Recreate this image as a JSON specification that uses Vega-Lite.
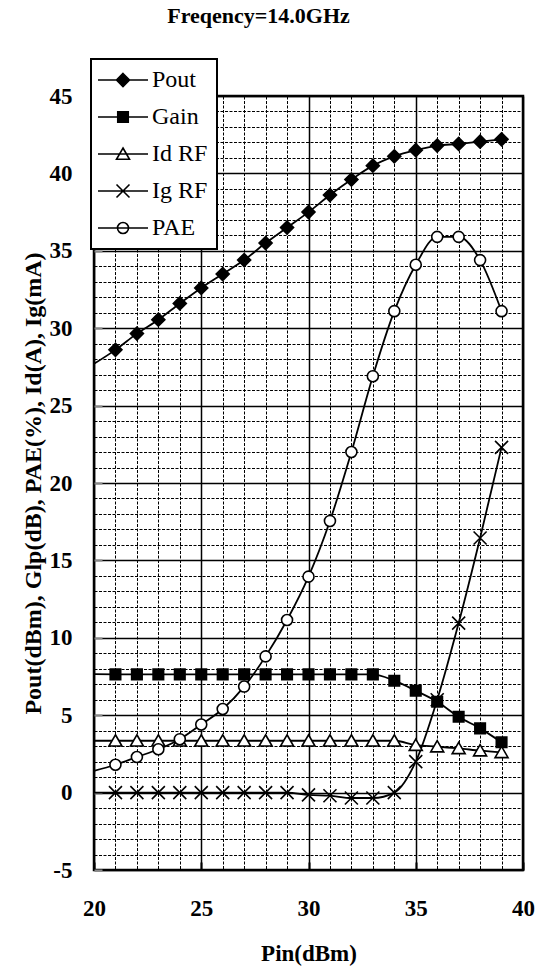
{
  "$schema": "https://vega.github.io/schema/vega-lite/v6.json",
  "width": 429,
  "height": 774,
  "autosize": {"type": "none"},
  "padding": {"left": 94, "top": 96, "right": 16, "bottom": 97},
  "background": "white",
  "title": {"text": "Freqency=14.0GHz", "font": "Liberation Serif", "fontSize": 22, "fontWeight": "bold", "color": "black", "anchor": "middle", "dx": -50, "offset": 30},
  "data": {"values": [
    {"x": 20, "series": "Pout", "v": 27.7}, {"x": 21, "series": "Pout", "v": 28.6}, {"x": 22, "series": "Pout", "v": 29.65}, {"x": 23, "series": "Pout", "v": 30.55}, {"x": 24, "series": "Pout", "v": 31.6}, {"x": 25, "series": "Pout", "v": 32.6}, {"x": 26, "series": "Pout", "v": 33.5}, {"x": 27, "series": "Pout", "v": 34.4}, {"x": 28, "series": "Pout", "v": 35.5}, {"x": 29, "series": "Pout", "v": 36.5}, {"x": 30, "series": "Pout", "v": 37.5}, {"x": 31, "series": "Pout", "v": 38.6}, {"x": 32, "series": "Pout", "v": 39.6}, {"x": 33, "series": "Pout", "v": 40.5}, {"x": 34, "series": "Pout", "v": 41.1}, {"x": 35, "series": "Pout", "v": 41.5}, {"x": 36, "series": "Pout", "v": 41.8}, {"x": 37, "series": "Pout", "v": 41.9}, {"x": 38, "series": "Pout", "v": 42.05}, {"x": 39, "series": "Pout", "v": 42.2},
    {"x": 20, "series": "Gain", "v": 7.65}, {"x": 21, "series": "Gain", "v": 7.64}, {"x": 22, "series": "Gain", "v": 7.64}, {"x": 23, "series": "Gain", "v": 7.64}, {"x": 24, "series": "Gain", "v": 7.64}, {"x": 25, "series": "Gain", "v": 7.64}, {"x": 26, "series": "Gain", "v": 7.64}, {"x": 27, "series": "Gain", "v": 7.64}, {"x": 28, "series": "Gain", "v": 7.64}, {"x": 29, "series": "Gain", "v": 7.64}, {"x": 30, "series": "Gain", "v": 7.64}, {"x": 31, "series": "Gain", "v": 7.64}, {"x": 32, "series": "Gain", "v": 7.64}, {"x": 33, "series": "Gain", "v": 7.64}, {"x": 34, "series": "Gain", "v": 7.23}, {"x": 35, "series": "Gain", "v": 6.58}, {"x": 36, "series": "Gain", "v": 5.87}, {"x": 37, "series": "Gain", "v": 4.9}, {"x": 38, "series": "Gain", "v": 4.15}, {"x": 39, "series": "Gain", "v": 3.25},
    {"x": 20, "series": "Id RF", "v": 3.35}, {"x": 21, "series": "Id RF", "v": 3.35}, {"x": 22, "series": "Id RF", "v": 3.35}, {"x": 23, "series": "Id RF", "v": 3.35}, {"x": 24, "series": "Id RF", "v": 3.35}, {"x": 25, "series": "Id RF", "v": 3.35}, {"x": 26, "series": "Id RF", "v": 3.35}, {"x": 27, "series": "Id RF", "v": 3.35}, {"x": 28, "series": "Id RF", "v": 3.35}, {"x": 29, "series": "Id RF", "v": 3.35}, {"x": 30, "series": "Id RF", "v": 3.35}, {"x": 31, "series": "Id RF", "v": 3.35}, {"x": 32, "series": "Id RF", "v": 3.35}, {"x": 33, "series": "Id RF", "v": 3.35}, {"x": 34, "series": "Id RF", "v": 3.35}, {"x": 35, "series": "Id RF", "v": 3.07}, {"x": 36, "series": "Id RF", "v": 2.97}, {"x": 37, "series": "Id RF", "v": 2.86}, {"x": 38, "series": "Id RF", "v": 2.71}, {"x": 39, "series": "Id RF", "v": 2.6},
    {"x": 20, "series": "Ig RF", "v": 0}, {"x": 21, "series": "Ig RF", "v": 0}, {"x": 22, "series": "Ig RF", "v": 0}, {"x": 23, "series": "Ig RF", "v": 0}, {"x": 24, "series": "Ig RF", "v": 0}, {"x": 25, "series": "Ig RF", "v": 0}, {"x": 26, "series": "Ig RF", "v": 0}, {"x": 27, "series": "Ig RF", "v": 0}, {"x": 28, "series": "Ig RF", "v": 0}, {"x": 29, "series": "Ig RF", "v": 0}, {"x": 30, "series": "Ig RF", "v": -0.15}, {"x": 31, "series": "Ig RF", "v": -0.2}, {"x": 32, "series": "Ig RF", "v": -0.35}, {"x": 33, "series": "Ig RF", "v": -0.35}, {"x": 34, "series": "Ig RF", "v": 0}, {"x": 35, "series": "Ig RF", "v": 2.0}, {"x": 36, "series": "Ig RF", "v": 6.0}, {"x": 37, "series": "Ig RF", "v": 10.95}, {"x": 38, "series": "Ig RF", "v": 16.45}, {"x": 39, "series": "Ig RF", "v": 22.3},
    {"x": 20, "series": "PAE", "v": 1.4}, {"x": 21, "series": "PAE", "v": 1.8}, {"x": 22, "series": "PAE", "v": 2.3}, {"x": 23, "series": "PAE", "v": 2.8}, {"x": 24, "series": "PAE", "v": 3.45}, {"x": 25, "series": "PAE", "v": 4.4}, {"x": 26, "series": "PAE", "v": 5.4}, {"x": 27, "series": "PAE", "v": 6.85}, {"x": 28, "series": "PAE", "v": 8.8}, {"x": 29, "series": "PAE", "v": 11.15}, {"x": 30, "series": "PAE", "v": 13.95}, {"x": 31, "series": "PAE", "v": 17.55}, {"x": 32, "series": "PAE", "v": 22.0}, {"x": 33, "series": "PAE", "v": 26.9}, {"x": 34, "series": "PAE", "v": 31.1}, {"x": 35, "series": "PAE", "v": 34.1}, {"x": 36, "series": "PAE", "v": 35.9}, {"x": 37, "series": "PAE", "v": 35.9}, {"x": 38, "series": "PAE", "v": 34.4}, {"x": 39, "series": "PAE", "v": 31.1}
  ]},
  "encoding": {
    "x": {
      "field": "x", "type": "quantitative",
      "scale": {"domain": [20, 40], "nice": false, "zero": false},
      "axis": {
        "title": "Pin(dBm)",
        "values": [20, 21, 22, 23, 24, 25, 26, 27, 28, 29, 30, 31, 32, 33, 34, 35, 36, 37, 38, 39, 40],
        "labelExpr": "datum.value % 5 === 0 ? '' + datum.value : ''",
        "grid": true,
        "gridColor": "black",
        "gridDash": {"condition": {"test": "datum.value % 5 === 0", "value": []}, "value": [3, 1.5]},
        "gridWidth": {"condition": {"test": "datum.value % 5 === 0", "value": 1.5}, "value": 1},
        "domain": false,
        "tickSize": -8,
        "tickColor": "black",
        "tickWidth": 2,
        "tickOpacity": {"condition": {"test": "datum.value % 5 === 0", "value": 1}, "value": 0},
        "labelFont": "Liberation Serif", "labelFontSize": 23, "labelFontWeight": "bold", "labelColor": "black",
        "labelPadding": 35, "labelFlush": false, "labelOverlap": false,
        "titleFont": "Liberation Serif", "titleFontSize": 23, "titleFontWeight": "bold", "titleColor": "black",
        "titlePadding": 22
      }
    },
    "y": {
      "field": "v", "type": "quantitative",
      "scale": {"domain": [-5, 45], "nice": false, "zero": false},
      "axis": {
        "title": "Pout(dBm), Glp(dB), PAE(%), Id(A), Ig(mA)",
        "values": [-5, -4, -3, -2, -1, 0, 1, 2, 3, 4, 5, 6, 7, 8, 9, 10, 11, 12, 13, 14, 15, 16, 17, 18, 19, 20, 21, 22, 23, 24, 25, 26, 27, 28, 29, 30, 31, 32, 33, 34, 35, 36, 37, 38, 39, 40, 41, 42, 43, 44, 45],
        "labelExpr": "datum.value % 5 === 0 ? '' + datum.value : ''",
        "grid": true,
        "gridColor": "black",
        "gridDash": {"condition": {"test": "datum.value % 5 === 0", "value": []}, "value": [3, 1.5]},
        "gridWidth": {"condition": {"test": "datum.value % 5 === 0", "value": 1.5}, "value": 1},
        "domain": false,
        "tickSize": -8,
        "tickColor": "#888888",
        "tickWidth": 2,
        "tickOpacity": {"condition": {"test": "datum.value % 5 === 0", "value": 1}, "value": 0},
        "labelFont": "Liberation Serif", "labelFontSize": 23, "labelFontWeight": "bold", "labelColor": "black",
        "labelPadding": 30, "labelFlush": false, "labelOverlap": false,
        "titleFont": "Liberation Serif", "titleFontSize": 24, "titleFontWeight": "bold", "titleColor": "black",
        "titlePadding": 4
      }
    }
  },
  "layer": [
    {
      "mark": {"type": "line", "interpolate": "monotone", "color": "black", "strokeWidth": 1.8},
      "encoding": {"detail": {"field": "series", "type": "nominal"}}
    },
    {
      "transform": [{"filter": "datum.x >= 21"}],
      "mark": {"type": "point", "filled": true, "stroke": "black", "strokeWidth": 1.6, "size": 100, "opacity": 1},
      "encoding": {
        "fill": {"condition": {"test": "datum.series === 'Pout' || datum.series === 'Gain'", "value": "black"}, "value": "white"},
        "shape": {
          "condition": [
            {"test": "datum.series === 'Pout'", "value": "M0,-1.3L1.3,0L0,1.3L-1.3,0Z"},
            {"test": "datum.series === 'Gain'", "value": "M-1.05,-1.05H1.05V1.05H-1.05Z"},
            {"test": "datum.series === 'Id RF'", "value": "M0,-1.2L1.3,1.05L-1.3,1.05Z"},
            {"test": "datum.series === 'Ig RF'", "value": "M-1.3,-1.3L1.3,1.3M-1.3,1.3L1.3,-1.3"}
          ],
          "value": "M-1.1,0A1.1,1.1,0,1,1,1.1,0A1.1,1.1,0,1,1,-1.1,0Z"
        }
      }
    },
    {
      "transform": [{"filter": "datum.x < 0"}],
      "mark": {"type": "point", "filled": true, "strokeWidth": 1.6, "size": 100, "opacity": 1},
      "encoding": {
        "shape": {
          "field": "series", "type": "nominal",
          "scale": {
            "domain": ["Pout", "Gain", "Id RF", "Ig RF", "PAE"],
            "range": ["M-5,0H5M0,-1.3L1.3,0L0,1.3L-1.3,0Z", "M-5,0H5M-1.05,-1.05H1.05V1.05H-1.05Z", "M-5,0H5M0,-1.2L1.3,1.05L-1.3,1.05Z", "M-5,0H5M-1.3,-1.3L1.3,1.3M-1.3,1.3L1.3,-1.3", "M-5,0H5M-1.1,0A1.1,1.1,0,1,1,1.1,0A1.1,1.1,0,1,1,-1.1,0Z"]
          },
          "legend": {
            "title": null,
            "orient": "none",
            "legendX": -3,
            "legendY": -37,
            "padding": 9,
            "fillColor": "white",
            "strokeColor": "black",
            "labelFont": "Liberation Serif",
            "labelFontSize": 24,
            "labelColor": "black",
            "labelLimit": 300,
            "symbolSize": 100,
            "symbolStrokeWidth": 1.6,
            "symbolOpacity": 1,
            "symbolOffset": 11,
            "labelOffset": 17,
            "rowPadding": 13
          }
        },
        "fill": {
          "field": "series", "type": "nominal",
          "scale": {"domain": ["Pout", "Gain", "Id RF", "Ig RF", "PAE"], "range": ["black", "black", "white", "white", "white"]}
        },
        "stroke": {
          "field": "series", "type": "nominal",
          "scale": {"domain": ["Pout", "Gain", "Id RF", "Ig RF", "PAE"], "range": ["black", "black", "black", "black", "black"]}
        }
      }
    }
  ],
  "config": {
    "view": {"stroke": "black", "strokeWidth": 2.5},
    "legend": {"strokeWidth": 2}
  }
}
